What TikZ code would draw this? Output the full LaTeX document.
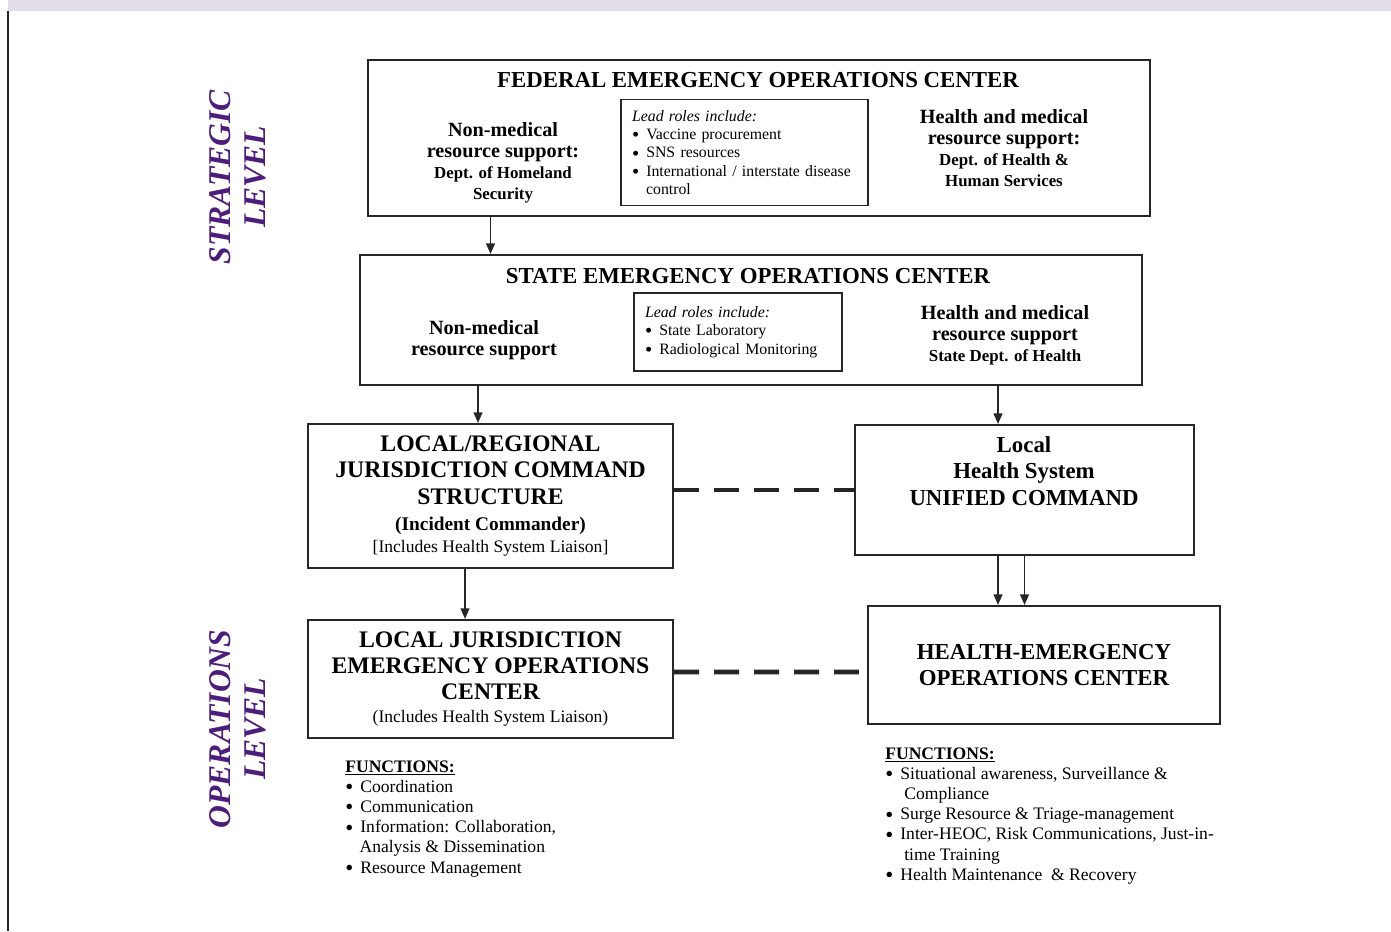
\documentclass[tikz,border=0pt]{standalone}
\usepackage{fontspec}
\setmainfont{Liberation Serif}
\usetikzlibrary{arrows.meta,positioning,calc}

\definecolor{levelpurple}{RGB}{76,29,122}
\definecolor{bandgray}{RGB}{226,220,232}
\newcommand{\subsize}{\fontsize{9.6}{11}\selectfont}
\newcommand{\itemdot}{\raisebox{-0.3ex}{\scalebox{1.3}{\textbullet}}\hspace{4pt}}

\begin{document}
\begin{tikzpicture}[
        x=0.02cm, y=-0.02cm,
        box/.style={draw=black!85, line width=1.2pt, inner sep=0pt},
        leadbox/.style={draw=black!85, line width=0.9pt, align=left, inner xsep=0.22cm, font=\fontsize{9}{10.5}\selectfont},
        title/.style={font=\fontsize{13}{15}\selectfont\bfseries, inner sep=0pt},
        side/.style={align=center, font=\fontsize{11.5}{12}\selectfont\bfseries, inner sep=0pt},
        unit/.style={box, align=center, font=\fontsize{13.5}{15}\selectfont\bfseries},
        funclist/.style={align=left, anchor=north west, inner sep=0pt, font=\fontsize{10}{11.5}\selectfont},
        level/.style={rotate=90, align=center, text=levelpurple, font=\fontsize{18}{20}\selectfont\bfseries\itshape, inner sep=0pt},
        arr/.style={-{Triangle[width=5pt,length=6pt]}, line width=0.9pt, draw=black!85},
        link/.style={line width=2.8pt, dash pattern=on 0.5cm off 0.3cm, draw=black!85}
    ]
        \useasboundingbox (0,0) rectangle (1391,931);
        \fill[bandgray] (8,0) rectangle (1391,11);
        \draw[line width=1.2pt, black!85] (8,11) -- (8,931);

        % strategic level
        \node[level] (strategic) at (238,177) {STRATEGIC\\LEVEL};
        \node[box, minimum width=15.64cm, minimum height=3.12cm] (fed) at (759,138) {};
        \node[title] (fedtitle) at (758,80) {FEDERAL EMERGENCY OPERATIONS CENTER};
        \node[side] (fednonmed) at (503,163) {Non-medical\\resource support:\\{\subsize Dept. of Homeland}\\{\subsize Security}};
        \node[side] (fedhealth) at (1004,148) {Health and medical\\resource support:\\{\subsize Dept. of Health \&}\\{\subsize Human Services}};
        \node[leadbox, text width=4.5cm, minimum height=2.12cm] (fedlead) at (744.5,152.5) {%
            {\itshape Lead roles include:}\\
            \itemdot Vaccine procurement\\
            \itemdot SNS resources\\
            \itemdot International / interstate disease\\
            \hspace*{8pt}control};

        \node[box, minimum width=15.64cm, minimum height=2.6cm] (state) at (751,320) {};
        \node[title] (statetitle) at (748,276) {STATE EMERGENCY OPERATIONS CENTER};
        \node[side] (statenonmed) at (484,340) {Non-medical\\resource support};
        \node[side] (statehealth) at (1005,335) {Health and medical\\resource support\\{\subsize State Dept. of Health}};
        \node[leadbox, text width=3.72cm, minimum height=1.56cm] (statelead) at (738,332) {%
            {\itshape Lead roles include:}\\
            \itemdot State Laboratory\\
            \itemdot Radiological Monitoring};

        % local command
        \node[unit, minimum width=7.3cm, minimum height=2.88cm] (lrc) at (490.5,496) {LOCAL/REGIONAL\\JURISDICTION COMMAND\\STRUCTURE\\{\fontsize{11}{13}\selectfont (Incident Commander)}\\[-2.5pt]{\fontsize{10}{12}\selectfont\mdseries [Includes Health System Liaison]}};
        \node[box, minimum width=6.78cm, minimum height=2.6cm] (lhs) at (1024.5,490) {};
        \node[align=center, font=\fontsize{13}{15}\selectfont\bfseries, inner sep=0pt] (lhstext) at (1024,471) {Local\\Health System\\UNIFIED COMMAND};

        % operations level
        \node[level] (operations) at (238,729) {OPERATIONS\\LEVEL};
        \node[unit, minimum width=7.3cm, minimum height=2.36cm] (ljeoc) at (490.5,679) {LOCAL JURISDICTION\\EMERGENCY OPERATIONS\\CENTER\\[-2pt]{\fontsize{10}{12}\selectfont\mdseries (Includes Health System Liaison)}};
        \node[unit, font=\fontsize{13}{15}\selectfont\bfseries, minimum width=7.04cm, minimum height=2.36cm] (heoc) at (1044,665) {HEALTH-EMERGENCY\\OPERATIONS CENTER};

        \node[funclist] (ljfunc) at (345,760) {%
            \underline{\textbf{FUNCTIONS:}}\\
            \itemdot Coordination\\
            \itemdot Communication\\
            \itemdot Information: Collaboration,\\
            \hspace*{8.1pt}Analysis \& Dissemination\\
            \itemdot Resource Management};
        \node[funclist] (hefunc) at (885,747) {%
            \underline{\textbf{FUNCTIONS:}}\\
            \itemdot Situational awareness, Surveillance \&\\
            \hspace*{10.8pt}Compliance\\
            \itemdot Surge Resource \& Triage-management\\
            \itemdot Inter-HEOC, Risk Communications, Just-in-\\
            \hspace*{10.8pt}time Training\\
            \itemdot Health Maintenance\ \ \& Recovery};

        % connectors
        \draw[arr] (fed.south -| lrc.north) -- (state.north -| lrc.north);
        \draw[arr] ([xshift=-0.25cm]lrc.north |- state.south) -- ([xshift=-0.25cm]lrc.north);
        \draw[arr] ([xshift=-0.53cm]lhs.north |- state.south) -- ([xshift=-0.53cm]lhs.north);
        \draw[arr] ([xshift=-0.51cm]lrc.south) -- ([xshift=-0.51cm]lrc.south |- ljeoc.north);
        \draw[arr] ([xshift=-0.53cm]lhs.south) -- ([xshift=-0.53cm]lhs.south |- heoc.north);
        \draw[arr] (lhs.south) -- (lhs.south |- heoc.north);
        \draw[link] (lrc.east |- lhs.west) -- (lhs.west);
        \draw[link] ([yshift=0.14cm]ljeoc.east) -- ([yshift=-0.14cm]heoc.west);
    \end{tikzpicture}
\end{document}
